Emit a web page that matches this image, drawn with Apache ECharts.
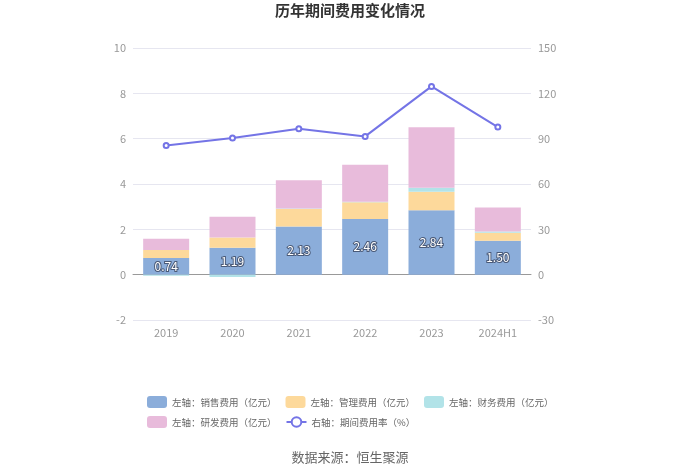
<!DOCTYPE html>
<html>
<head>
<meta charset="utf-8">
<script src="https://cdn.jsdelivr.net/npm/echarts@6/dist/echarts.min.js"></script>
<style>html,body{margin:0;padding:0;background:#fff}#c{width:700px;height:473px}</style>
</head>
<body>
<div id="c"></div>
<script>
const categories = ['2019', '2020', '2021', '2022', '2023', '2024H1'];
const salesExp = [0.74, 1.19, 2.13, 2.46, 2.84, 1.50];
const mgmtExp = [0.35, 0.45, 0.77, 0.73, 0.82, 0.35];
const finExp = [-0.05, -0.10, 0.02, 0.03, 0.18, 0.05];
const rdExp = [0.49, 0.92, 1.24, 1.63, 2.66, 1.06];
const expRate = [85.4, 90.5, 96.6, 91.5, 124.6, 97.7];
const leftTicks = { min: -2, max: 10, interval: 2 };
const rightTicks = { min: -30, max: 150, interval: 30 };
const names = ['左轴：销售费用（亿元）', '左轴：管理费用（亿元）', '左轴：财务费用（亿元）', '左轴：研发费用（亿元）', '右轴：期间费用率（%）'];

const chart = echarts.init(document.getElementById('c'));
const font = 'Microsoft YaHei, "Noto Sans CJK SC", sans-serif';
const legendBase = {
  left: 142, itemWidth: 20, itemHeight: 12, itemGap: 9, orient: 'horizontal',
  textStyle: { color: '#666', fontSize: 9.5 }
};
chart.setOption({
  backgroundColor: '#fff',
  textStyle: { fontFamily: font },
  title: [
    { text: '历年期间费用变化情况', left: 'center', top: -2, textStyle: { fontSize: 15, fontWeight: 'bold', color: '#333', fontFamily: font } },
    { text: '数据来源：恒生聚源', left: 'center', top: 446, textStyle: { fontSize: 13, fontWeight: 'normal', color: '#666', fontFamily: font } }
  ],
  legend: [
    Object.assign({}, legendBase, { top: 391, data: names.slice(0, 3) }),
    Object.assign({}, legendBase, { top: 411, data: names.slice(3) })
  ],
  grid: { left: 133, right: 169, top: 48, bottom: 153 },
  xAxis: {
    type: 'category', data: categories,
    axisLine: { lineStyle: { color: '#999' } },
    axisTick: { alignWithLabel: true, lineStyle: { color: '#999' } },
    axisLabel: { color: '#999', fontSize: 11, margin: 7 }
  },
  yAxis: [
    { type: 'value', min: leftTicks.min, max: leftTicks.max, interval: leftTicks.interval,
      axisLine: { show: false }, axisTick: { show: false },
      axisLabel: { color: '#999', fontSize: 11, margin: 7 },
      splitLine: { lineStyle: { color: '#e6e6f0' } } },
    { type: 'value', min: rightTicks.min, max: rightTicks.max, interval: rightTicks.interval,
      axisLine: { show: false }, axisTick: { show: false },
      axisLabel: { color: '#999', fontSize: 11, margin: 7 },
      splitLine: { show: false } }
  ],
  series: [
    { name: names[0], type: 'bar', stack: 'a', data: salesExp, barWidth: 46,
      itemStyle: { color: '#8badda' },
      label: { show: true, position: 'inside', color: '#fff', fontSize: 12, textBorderColor: '#4a5a78', textBorderWidth: 2, formatter: p => p.value.toFixed(2) } },
    { name: names[1], type: 'bar', stack: 'a', data: mgmtExp, barWidth: 46, itemStyle: { color: '#fdd99b' } },
    { name: names[2], type: 'bar', stack: 'a', data: finExp, barWidth: 46, itemStyle: { color: '#b2e3e8' } },
    { name: names[3], type: 'bar', stack: 'a', data: rdExp, barWidth: 46, itemStyle: { color: '#e8bbdb' } },
    { name: names[4], type: 'line', yAxisIndex: 1, data: expRate,
      symbol: 'emptyCircle', symbolSize: 5,
      lineStyle: { color: '#7474e6', width: 2 }, itemStyle: { color: '#7474e6' } }
  ]
});
</script>
</body>
</html>
